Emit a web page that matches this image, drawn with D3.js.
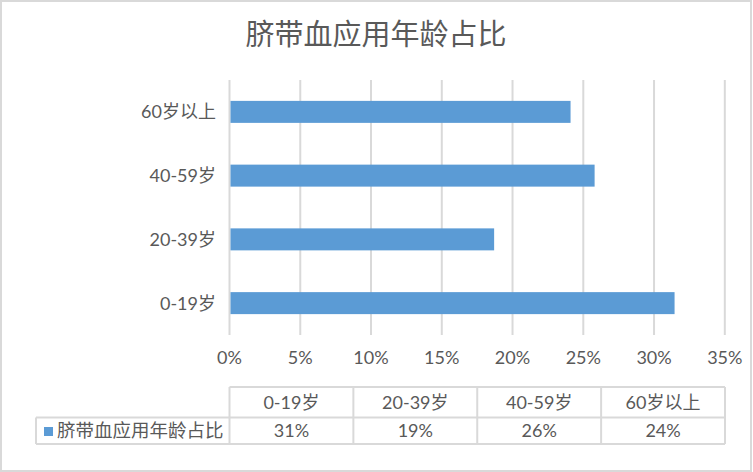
<!DOCTYPE html>
<html>
<head>
<meta charset="utf-8">
<script src="https://cdn.jsdelivr.net/npm/d3@7"></script>
<style>
  html, body { margin: 0; padding: 0; background: #fff; }
  svg { display: block; }
  text { font-family: "Lato", "Noto Sans CJK SC", sans-serif; fill: #595959; }
</style>
</head>
<body>
<svg id="chart" width="753" height="472"></svg>
<script>
const title = "脐带血应用年龄占比";
const seriesName = "脐带血应用年龄占比";
const categories = ["0-19岁", "20-39岁", "40-59岁", "60岁以上"];
const values = [31.45, 18.7, 25.8, 24.1];
const tickValues = [0, 5, 10, 15, 20, 25, 30, 35];

const svg = d3.select("#chart");
const W = 753, H = 472;
const grid = "#d9d9d9";
const barColor = "#5b9bd5";

// outer border
svg.append("rect").attr("x", 1).attr("y", 1).attr("width", W - 3).attr("height", H - 2)
  .attr("fill", "#fff").attr("stroke", grid).attr("stroke-width", 2);

// title
svg.append("text").attr("x", 376).attr("y", 45).attr("text-anchor", "middle")
  .style("font-size", "29px").text(title);

const plot = { left: 229.5, right: 724.8, top: 80, bottom: 335 };

const x = d3.scaleLinear().domain([0, 35]).range([plot.left, plot.right]);
const y = d3.scaleBand().domain(categories.slice().reverse())
  .range([plot.top, plot.bottom]).paddingInner(0.655).paddingOuter(0.3275);

// gridlines
svg.append("g").selectAll("line").data(tickValues).join("line")
  .attr("x1", d => x(d)).attr("x2", d => x(d))
  .attr("y1", plot.top).attr("y2", plot.bottom)
  .attr("stroke", grid).attr("stroke-width", 2);

// bars
svg.append("g").selectAll("rect").data(categories).join("rect")
  .attr("x", x(0) + 1)
  .attr("y", d => y(d))
  .attr("width", (d, i) => x(values[i]) - x(0) - 1)
  .attr("height", y.bandwidth())
  .attr("fill", barColor);

// x tick labels
const fmtPct = d => d + "%";
svg.append("g").selectAll("text").data(tickValues).join("text")
  .attr("x", d => x(d)).attr("y", 364).attr("text-anchor", "middle")
  .style("font-size", "18px").text(fmtPct);

// y category labels
svg.append("g").selectAll("text").data(categories).join("text")
  .attr("x", 216).attr("y", d => y(d) + y.bandwidth() / 2 + 6.5).attr("text-anchor", "end")
  .style("font-size", "18px").text(d => d);

// data table
const tbl = { left: 36, colStart: 229.5, colEnd: 725, top: 387, mid: 417.5, bottom: 444 };
const col = d3.scaleBand().domain(categories).range([tbl.colStart, tbl.colEnd]);
const tg = svg.append("g");
const lineStyle = sel => sel.attr("stroke", grid).attr("stroke-width", 2);
// horizontal lines
tg.append("line").attr("x1", tbl.colStart).attr("x2", tbl.colEnd).attr("y1", tbl.top).attr("y2", tbl.top).call(lineStyle);
tg.append("line").attr("x1", tbl.left).attr("x2", tbl.colEnd).attr("y1", tbl.mid).attr("y2", tbl.mid).call(lineStyle);
tg.append("line").attr("x1", tbl.left).attr("x2", tbl.colEnd).attr("y1", tbl.bottom).attr("y2", tbl.bottom).call(lineStyle);
// vertical lines
tg.append("line").attr("x1", tbl.left).attr("x2", tbl.left).attr("y1", tbl.mid).attr("y2", tbl.bottom).call(lineStyle);
const vx = categories.map(c => col(c)).concat([tbl.colEnd]);
tg.selectAll("line.v").data(vx).join("line").attr("class", "v")
  .attr("x1", d => d).attr("x2", d => d).attr("y1", tbl.top).attr("y2", tbl.bottom).call(lineStyle);

// header texts
tg.selectAll("text.h").data(categories).join("text").attr("class", "h")
  .attr("x", d => col(d) + col.bandwidth() / 2).attr("y", (tbl.top + tbl.mid) / 2 + 6.5)
  .attr("text-anchor", "middle").style("font-size", "18px").text(d => d);

// value texts
const fmt = d3.format(".0%");
tg.selectAll("text.v").data(categories).join("text").attr("class", "v")
  .attr("x", d => col(d) + col.bandwidth() / 2).attr("y", (tbl.mid + tbl.bottom) / 2 + 6.5)
  .attr("text-anchor", "middle").style("font-size", "18px")
  .text((d, i) => fmt(values[i] / 100));

// legend key
tg.append("rect").attr("x", 44).attr("y", 427).attr("width", 9).attr("height", 9).attr("fill", barColor);
tg.append("text").attr("x", 57).attr("y", (tbl.mid + tbl.bottom) / 2 + 6.5)
  .style("font-size", "18.5px").text(seriesName);
</script>
</body>
</html>
